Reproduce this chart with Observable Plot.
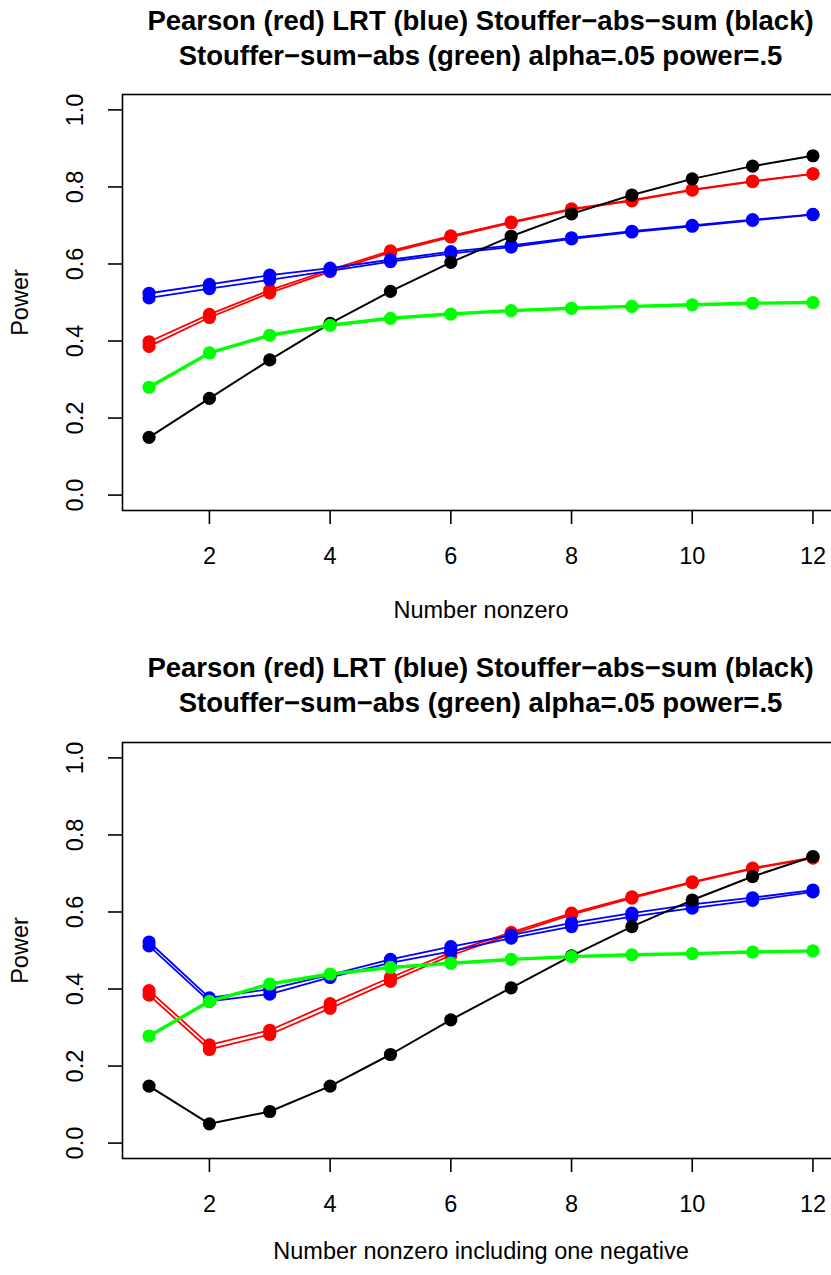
<!DOCTYPE html>
<html><head><meta charset="utf-8">
<script src="https://cdn.jsdelivr.net/npm/d3@7"></script>
<script src="https://cdn.jsdelivr.net/npm/@observablehq/plot@0.6"></script>
<style>
html,body{margin:0;padding:0;background:#fff;overflow:hidden;width:831px;height:1275px}
.panel{position:relative;width:842px}
.title{font-family:"Liberation Sans",Arial,sans-serif;font-weight:bold;font-size:27.5px;line-height:35px;box-sizing:border-box;height:80px;padding-left:122px;padding-right:3px;text-align:center;white-space:nowrap;color:#000}
svg{display:block}
</style></head><body>
<div id="p1" class="panel"></div>
<div id="p2" class="panel"></div>
<script>
const xs = [1,2,3,4,5,6,7,8,9,10,11,12];
const xTicks = [2,4,6,8,10,12];
const yTicks = [0,0.2,0.4,0.6,0.8,1.0];
const titleLines = ["Pearson (red) LRT (blue) Stouffer\u2212abs\u2212sum (black)", "Stouffer\u2212sum\u2212abs (green) alpha=.05 power=.5"];
const yLabel = "Power";
const xLabel1 = "Number nonzero";
const xLabel2 = "Number nonzero including one negative";

// Panel 1: all nonzero effects positive
const p1RedA   = [0.398,0.469,0.532,0.585,0.634,0.673,0.709,0.743,0.766,0.793,0.815,0.834];
const p1RedB   = [0.386,0.461,0.525,0.580,0.630,0.670,0.707,0.741,0.764,0.792,0.814,0.834];
const p1BlueA  = [0.524,0.547,0.571,0.589,0.611,0.632,0.648,0.668,0.685,0.700,0.715,0.729];
const p1BlueB  = [0.512,0.536,0.559,0.582,0.606,0.627,0.644,0.665,0.683,0.698,0.713,0.728];
const p1Black  = [0.150,0.251,0.351,0.446,0.529,0.604,0.672,0.730,0.779,0.821,0.854,0.881];
const p1Green  = [0.280,0.369,0.415,0.441,0.459,0.470,0.479,0.485,0.490,0.494,0.498,0.500];

// Panel 2: one negative effect
const p2RedA   = [0.396,0.255,0.293,0.362,0.430,0.495,0.547,0.597,0.639,0.678,0.714,0.742];
const p2RedB   = [0.384,0.243,0.282,0.350,0.420,0.487,0.542,0.593,0.636,0.676,0.712,0.740];
const p2BlueA  = [0.522,0.377,0.400,0.437,0.477,0.510,0.540,0.572,0.597,0.620,0.637,0.657];
const p2BlueB  = [0.512,0.368,0.387,0.430,0.468,0.498,0.532,0.562,0.588,0.610,0.630,0.652];
const p2Black  = [0.148,0.050,0.082,0.148,0.230,0.320,0.403,0.486,0.562,0.631,0.692,0.744];
const p2Green  = [0.278,0.368,0.413,0.439,0.456,0.467,0.477,0.484,0.489,0.492,0.496,0.499];

const COLORS = {red:"#FF0000", blue:"#0000FF", black:"#000000", green:"#00FF00"};

function rows(vals){ return xs.map((x,i)=>({x, y: vals[i]})); }

function panel(el, {padTop, svgHeight, marginTop, marginBottom, xLabel, xLabelDy, series}) {
  const t = document.createElement("div");
  t.className = "title";
  t.style.paddingTop = padTop + "px";
  titleLines.forEach(s => { const d = document.createElement("div"); d.textContent = s; t.appendChild(d); });
  el.appendChild(t);
  const marks = [];
  for (const [vals, col, sw] of series) {
    const d = rows(vals);
    marks.push(Plot.line(d, {x:"x", y:"y", stroke: COLORS[col], strokeWidth: sw}));
    marks.push(Plot.dot(d, {x:"x", y:"y", r:6.6, fill: COLORS[col], stroke:"none"}));
  }
  const fs = 23.5;
  const chart = Plot.plot({
    width: 842, height: svgHeight,
    marginLeft: 122, marginRight: 3, marginTop, marginBottom,
    style: {fontFamily: "'Liberation Sans', Arial, sans-serif", fontSize: fs + "px", background: "white", color: "black", overflow: "visible"},
    x: {domain: [0.56, 12.44]},
    y: {domain: [-0.04, 1.04]},
    marks: [
      ...marks,
      Plot.frame({stroke: "black", strokeWidth: 1.6}),
      Plot.axisX({ticks: xTicks, tickSize: 14, tickPadding: 23, fontSize: fs, label: null, strokeWidth: 1.6, tickFormat: d => String(d)}),
      Plot.axisY({ticks: yTicks, tickSize: 14, label: null, strokeWidth: 1.6, tickFormat: () => ""}),
      Plot.text(yTicks, {y: d => d, text: d => d.toFixed(1), frameAnchor: "left", dx: -47, rotate: -90, fontSize: fs, textAnchor: "middle", lineAnchor: "middle"}),
      Plot.text([yLabel], {text: d => d, frameAnchor: "left", dx: -102, rotate: -90, fontSize: fs, textAnchor: "middle", lineAnchor: "middle"}),
      Plot.text([xLabel], {text: d => d, frameAnchor: "bottom", dy: xLabelDy, fontSize: fs, textAnchor: "middle", lineAnchor: "middle"})
    ]
  });
  el.appendChild(chart);
}

panel(document.getElementById("p1"), {
  padTop: 3, svgHeight: 557, marginTop: 14, marginBottom: 127, xLabel: xLabel1, xLabelDy: 100,
  series: [[p1RedA,"red",1.8],[p1RedB,"red",1.8],[p1BlueA,"blue",1.8],[p1BlueB,"blue",1.8],[p1Black,"black",2],[p1Green,"green",3.4]]
});
panel(document.getElementById("p2"), {
  padTop: 13, svgHeight: 558, marginTop: 25, marginBottom: 117, xLabel: xLabel2, xLabelDy: 93,
  series: [[p2RedA,"red",1.8],[p2RedB,"red",1.8],[p2BlueA,"blue",1.8],[p2BlueB,"blue",1.8],[p2Black,"black",2],[p2Green,"green",3.4]]
});
</script>
</body></html>
